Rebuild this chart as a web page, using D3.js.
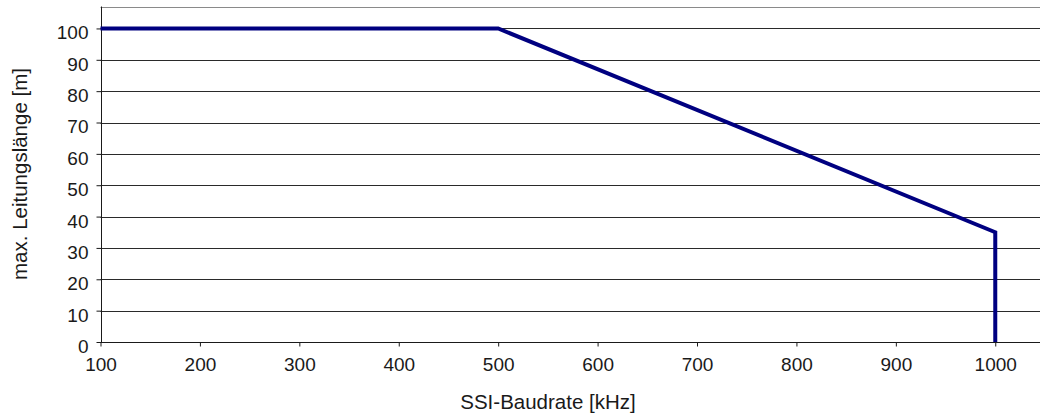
<!DOCTYPE html>
<html>
<head>
<meta charset="utf-8">
<script src="https://cdn.jsdelivr.net/npm/d3@7"></script>
<style>
  body { margin: 0; background: #fff; }
  text { font-family: "Liberation Sans", Arial, sans-serif; fill: #1a1a1a; }
</style>
</head>
<body>
<svg id="chart" width="1040" height="418"></svg>
<script>
// data
const baudrate = [100, 500, 1000, 1000];
const laenge = [100, 100, 35, 0];
const xTicks = [100, 200, 300, 400, 500, 600, 700, 800, 900, 1000];
const yTicks = [0, 10, 20, 30, 40, 50, 60, 70, 80, 90, 100];

const width = 1040;
const height = 418;

const xScale = d3.scaleLinear().domain([100, 1045]).range([100.5, 1040]);
const yScale = d3.scaleLinear().domain([0, 107]).range([342, 6.5]);

const svg = d3.select('#chart');

// grid
svg
  .append('g')
  .selectAll('line')
  .data(yTicks.filter(d => d > 0))
  .enter()
  .append('line')
  .attr('x1', xScale(100))
  .attr('x2', width)
  .attr('y1', d => Math.round(yScale(d)) + 0.5)
  .attr('y2', d => Math.round(yScale(d)) + 0.5)
  .attr('stroke', '#2a2a2a')
  .attr('stroke-width', 1);

// plot area top border
svg
  .append('line')
  .attr('x1', xScale(100))
  .attr('x2', width)
  .attr('y1', Math.round(yScale(107)) + 0.5)
  .attr('y2', Math.round(yScale(107)) + 0.5)
  .attr('stroke', '#8a8a8a');

// axes
const yAxis = d3.axisLeft(yScale).tickValues(yTicks).tickSize(5).tickPadding(8);
const xAxis = d3
  .axisBottom(xScale)
  .tickValues(xTicks)
  .tickSize(4)
  .tickPadding(11)
  .tickFormat(d3.format('d'));

const gy = svg
  .append('g')
  .attr('transform', 'translate(' + (Math.round(xScale(100)) + 0.5) + ',0)')
  .call(yAxis);
gy.select('.domain').attr('d', 'M0,' + yScale(107) + 'V' + yScale(0)).attr('stroke', '#1a1a1a');

const gx = svg
  .append('g')
  .attr('transform', 'translate(0,' + (Math.round(yScale(0)) + 0.5) + ')')
  .call(xAxis);
gx.select('.domain').attr('d', 'M' + xScale(100) + ',0H' + width).attr('stroke', '#1a1a1a');

svg.selectAll('.tick line').attr('stroke', '#1a1a1a');
svg
  .selectAll('.tick text')
  .attr('font-size', 19)
  .style('font-family', '"Liberation Sans", Arial, sans-serif')
  .attr('fill', '#1a1a1a');
svg.selectAll('g').attr('font-size', null);
gy.selectAll('.tick text').attr('dy', '0.55em');

// line
const line = d3
  .line()
  .x((d, i) => xScale(baudrate[i]))
  .y(d => yScale(d));

svg
  .append('path')
  .datum(laenge)
  .attr('d', line)
  .attr('fill', 'none')
  .attr('stroke', '#000080')
  .attr('stroke-width', 4)
  .attr('stroke-linejoin', 'miter');

// labels
svg
  .append('text')
  .attr('x', 548)
  .attr('y', 409)
  .attr('text-anchor', 'middle')
  .attr('font-size', 20.5)
  .text('SSI-Baudrate [kHz]');

svg
  .append('text')
  .attr('transform', 'translate(27,174) rotate(-90)')
  .attr('text-anchor', 'middle')
  .attr('font-size', 20.5)
  .text('max. Leitungslänge [m]');
</script>
</body>
</html>
